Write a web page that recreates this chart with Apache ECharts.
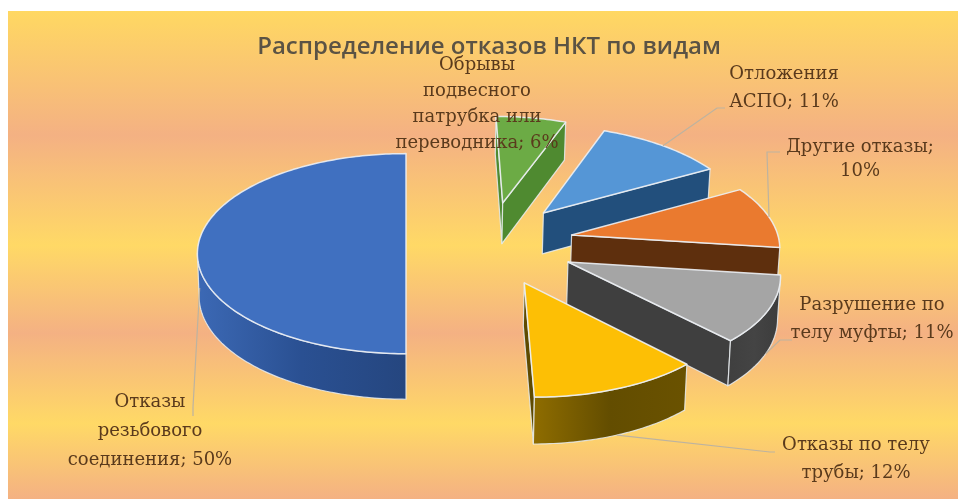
<!DOCTYPE html>
<html>
<head>
<meta charset="utf-8">
<style>html,body{margin:0;padding:0;background:#fff}#chart{width:958px;height:499px}</style>
<script src="https://cdn.jsdelivr.net/npm/echarts@6/dist/echarts.min.js"></script>
</head>
<body>
<div id="chart"></div>
<script>
// Failure shares by type, clockwise from the bottom of the pie
const categories = ['Отказы резьбового соединения', 'Обрывы подвесного патрубка или переводника', 'Отложения АСПО', 'Другие отказы', 'Разрушение по телу муфты', 'Отказы по телу трубы'];
const shares = [50, 6, 11, 10, 11, 12];
const labelLines = [['Отказы', 'резьбового', 'соединения'], ['Обрывы', 'подвесного', 'патрубка или', 'переводника'], ['Отложения', 'АСПО'], ['Другие отказы'], ['Разрушение по', 'телу муфты'], ['Отказы по телу', 'трубы']];

// Appearance of each slice
const topColors = ['#4070c0', '#6cab45', '#5596d6', '#ea7a2f', '#a5a5a5', '#fdbf05'];
const wallColors = ['#284a80', '#4f8a30', '#224f7c', '#5e2f0d', '#3f3f3f', '#5f4a00'];
const arcStops = [['#3c69b5', '#2a5092', '#25467f'], ['#4f8a30', '#4f8a30', '#4f8a30'], ['#224f7c', '#224f7c', '#224f7c'], ['#5e2f0d', '#5e2f0d', '#5e2f0d'], ['#3f3f3f', '#444444', '#3c3c3c'], ['#8f6d00', '#634d00', '#6a5200']];
const explodeX = [0, 100, 141, 167, 160, 115];
const explodeY = [0, 93, 71, 23, -33, -75];
const labelX = [150, 477, 784, 860, 872, 856];
const labelY = [431, 104, 88, 159, 319, 459];
const labelLead = [29, 26, 28, 24, 28, 28];
const leaderDepth = [1, 0, 0, 0, 1, 1];
const leaderBend = [[193, 407], [], [717, 108], [767, 152], [780, 340], [770, 452]];
const leaderEnd = [[193, 416], [], [725, 108], [780, 152], [792, 340], [775, 452]];

// Perspective of the pie plane: depth runs away from the viewer
const RADIUS = 208, THICK = 42, CX = 406, VANISH_Y = -1050, PLANE_D = 1296, PERSP = 0.000369;
function project(x, y, z) {
  const w = 1 + PERSP * y;
  return [CX + x / w * (1 - 0.008 * z), VANISH_Y + (PLANE_D + THICK * z) / w];
}
const total = shares.reduce((a, b) => a + b, 0);
const startAngles = [];
shares.reduce((acc, v, i) => { startAngles[i] = acc; return acc + v / total * 360; }, 180);

function rimPoint(i, deg, z) {
  const a = deg * Math.PI / 180;
  return project(explodeX[i] + RADIUS * Math.sin(a), explodeY[i] + RADIUS * Math.cos(a), z);
}
function renderSlice(params, api) {
  const i = params.dataIndex;
  const a0 = startAngles[i], sweep = api.value(0) / total * 360;
  const steps = Math.max(2, Math.round(sweep));
  const rimTop = [], rimBot = [];
  for (let s = 0; s <= steps; s++) {
    const d = a0 + sweep * s / steps;
    rimTop.push(rimPoint(i, d, 0));
    rimBot.push(rimPoint(i, d, 1));
  }
  const apexTop = project(explodeX[i], explodeY[i], 0);
  const apexBot = project(explodeX[i], explodeY[i], 1);
  const edge = { stroke: 'rgba(232,236,240,0.85)', lineWidth: 1.2, lineJoin: 'round' };
  const children = [];
  const last = rimTop.length - 1;
  // Only walls facing the viewer are drawn
  if (rimTop[0][0] < apexTop[0] - 0.5) {
    children.push({ type: 'polygon', shape: { points: [apexTop, rimTop[0], rimBot[0], apexBot] }, style: Object.assign({ fill: wallColors[i] }, edge) });
  }
  if (apexTop[0] < rimTop[last][0] - 0.5) {
    children.push({ type: 'polygon', shape: { points: [rimTop[last], apexTop, apexBot, rimBot[last]] }, style: Object.assign({ fill: wallColors[i] }, edge) });
  }
  let run = [];
  const flush = () => {
    if (run.length > 1) {
      const pts = run.map(k => rimTop[k]).concat(run.slice().reverse().map(k => rimBot[k]));
      children.push({
        type: 'polygon', shape: { points: pts },
        style: Object.assign({
          fill: new echarts.graphic.LinearGradient(0, 0, 1, 0, [
            { offset: 0, color: arcStops[i][0] }, { offset: 0.5, color: arcStops[i][1] }, { offset: 1, color: arcStops[i][2] }
          ])
        }, edge)
      });
    }
    run = [];
  };
  for (let k = 0; k < last; k++) {
    if (rimTop[k + 1][0] < rimTop[k][0]) {
      if (!run.length) run.push(k);
      run.push(k + 1);
    } else flush();
  }
  flush();
  children.push({
    type: 'polygon', shape: { points: [apexTop].concat(rimTop) },
    style: { fill: topColors[i], stroke: 'rgba(236,240,244,0.9)', lineWidth: 1.5, lineJoin: 'round' }
  });
  return { type: 'group', children };
}
function renderLabel(params, api) {
  const i = params.dataIndex;
  const v = api.value(0);
  const lines = labelLines[i].slice();
  lines[lines.length - 1] += '; ' + v + '%';
  if (i === 3) lines[0] = 'Другие отказы;', lines.push(v + '%');
  const children = [];
  if (leaderBend[i].length) {
    const mid = startAngles[i] + v / total * 180;
    children.push({
      type: 'polyline',
      shape: { points: [rimPoint(i, mid, leaderDepth[i]), leaderBend[i], leaderEnd[i]] },
      style: { fill: null, stroke: '#bdb3a0', lineWidth: 1.2 }
    });
  }
  children.push({
    type: 'text',
    style: {
      text: lines.join('\n'), x: labelX[i], y: labelY[i], align: 'center', verticalAlign: 'middle',
      font: '18px "DejaVu Serif"', lineHeight: labelLead[i], fill: '#5a3a1c'
    }
  });
  return { type: 'group', children };
}

const chart = echarts.init(document.getElementById('chart'));
chart.setOption({
  animation: false,
  backgroundColor: '#ffffff',
  title: {
    text: 'Распределение отказов НКТ по видам', left: 484, top: 30, textAlign: 'center',
    textStyle: { fontFamily: 'Open Sans', fontSize: 24, fontWeight: 600, color: '#5b5344' }
  },
  graphic: [{
    type: 'rect', z: -10, silent: true,
    shape: { x: 8, y: 11, width: 950, height: 488 },
    style: {
      fill: new echarts.graphic.LinearGradient(0, 0, 0, 1, [
        { offset: 0, color: '#ffd862' },
        { offset: 0.255, color: '#f4b183' },
        { offset: 0.48, color: '#ffd966' },
        { offset: 0.66, color: '#f4b183' },
        { offset: 0.845, color: '#ffd966' },
        { offset: 1, color: '#f4b183' }
      ])
    }
  }],
  series: [
    { type: 'custom', coordinateSystem: 'none', name: 'slices', data: shares.map((v, i) => ({ name: categories[i], value: [v] })), renderItem: renderSlice, z: 2 },
    { type: 'custom', coordinateSystem: 'none', name: 'labels', data: shares.map((v, i) => ({ name: categories[i], value: [v] })), renderItem: renderLabel, z: 3, silent: true }
  ]
});
</script>
</body>
</html>
